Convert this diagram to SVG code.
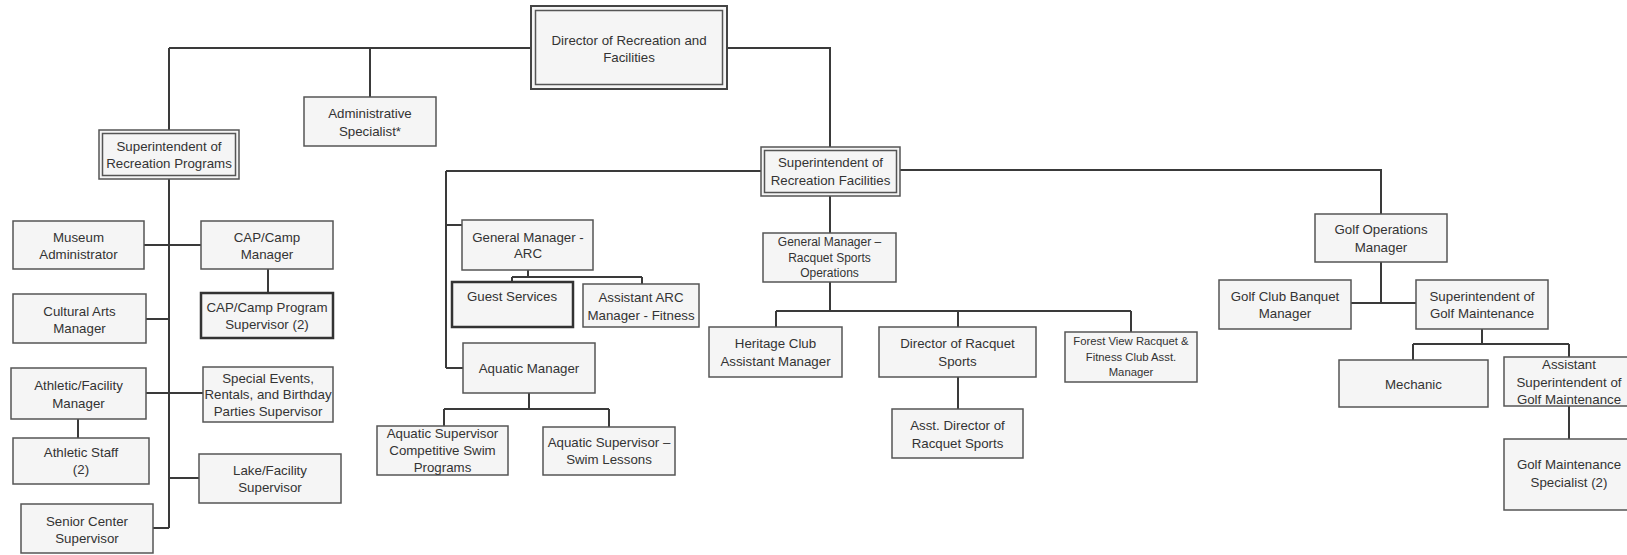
<svg xmlns="http://www.w3.org/2000/svg" width="1627" height="555" viewBox="0 0 1627 555">
<style>
.box{fill:#f5f5f5;stroke:#555;stroke-width:1.5}
.dark{fill:#f5f5f5;stroke:#333;stroke-width:2.5}
.dbl{fill:none;stroke:#555;stroke-width:1.5}
.conn{fill:none;stroke:#3a3a3a;stroke-width:2}
text{font-family:"Liberation Sans",Arial,sans-serif;font-size:13.3px;fill:#333;text-anchor:middle}
.s{font-size:12px}
.xs{font-size:11.3px}
</style>
<rect width="1627" height="555" fill="#ffffff"/>
<g id="connectors">
<path class="conn" d="M169,48H531M727,48H830V147M169,48V130M370,48V97
M169,179V528M144,245H201M268,269V293M146,319H169M146,393H203M78,419V438M169,478H199M153,528H169
M446,171H761M900,170H1381V214M446,171V368M446,225H462M446,368H463
M528,270V277M512,277H642M512,277V282M642,277V284
M529,393V409M444,409H609M444,409V426M609,409V427
M830,196V233M830,282V311M776,311H1131M776,311V327M958,311V327M1131,311V332M958,377V409
M1381,262V303M1351,303H1416M1482,329V344M1413,344H1569M1413,344V360M1569,344V358M1569,406V439"/>
</g>
<g id="director">
<rect x="531" y="6" width="196" height="83" fill="#f5f5f5" stroke="#444" stroke-width="2"/>
<rect x="535.5" y="10.5" width="187" height="74" class="dbl" stroke-width="2"/>
<text x="629" y="45">Director of Recreation and</text>
<text x="629" y="62">Facilities</text>
</g>
<g id="admin">
<rect class="box" x="304" y="97" width="132" height="49"/>
<text x="370" y="118">Administrative</text>
<text x="370" y="136">Specialist*</text>
</g>
<g id="supt-programs">
<rect class="box" x="99" y="130" width="140" height="49"/>
<rect class="dbl" x="102.5" y="133.5" width="133" height="42"/>
<text x="169" y="151">Superintendent of</text>
<text x="169" y="168">Recreation Programs</text>
</g>
<g id="museum">
<rect class="box" x="13" y="221" width="131" height="48"/>
<text x="78.5" y="242">Museum</text>
<text x="78.5" y="259">Administrator</text>
</g>
<g id="cap-manager">
<rect class="box" x="201" y="221" width="132" height="48"/>
<text x="267" y="242">CAP/Camp</text>
<text x="267" y="259">Manager</text>
</g>
<g id="cap-supervisor">
<rect class="dark" x="201" y="293" width="132" height="45"/>
<text x="267" y="312">CAP/Camp Program</text>
<text x="267" y="329">Supervisor (2)</text>
</g>
<g id="cultural">
<rect class="box" x="13" y="294" width="133" height="49"/>
<text x="79.5" y="316">Cultural Arts</text>
<text x="79.5" y="333">Manager</text>
</g>
<g id="athletic-manager">
<rect class="box" x="11" y="368" width="135" height="51"/>
<text x="78.5" y="390">Athletic/Facility</text>
<text x="78.5" y="408">Manager</text>
</g>
<g id="special-events">
<rect class="box" x="203" y="367" width="130" height="55"/>
<text x="268" y="383">Special Events,</text>
<text x="268" y="399">Rentals, and Birthday</text>
<text x="268" y="416">Parties Supervisor</text>
</g>
<g id="athletic-staff">
<rect class="box" x="13" y="438" width="136" height="46"/>
<text x="81" y="457">Athletic Staff</text>
<text x="81" y="474">(2)</text>
</g>
<g id="lake">
<rect class="box" x="199" y="454" width="142" height="49"/>
<text x="270" y="475">Lake/Facility</text>
<text x="270" y="492">Supervisor</text>
</g>
<g id="senior">
<rect class="box" x="21" y="504" width="132" height="49"/>
<text x="87" y="526">Senior Center</text>
<text x="87" y="543">Supervisor</text>
</g>
<g id="supt-facilities">
<rect class="box" x="761" y="147" width="139" height="49"/>
<rect class="dbl" x="764.5" y="150.5" width="132" height="42"/>
<text x="830.5" y="167">Superintendent of</text>
<text x="830.5" y="185">Recreation Facilities</text>
</g>
<g id="gm-arc">
<rect class="box" x="462" y="220" width="131" height="50"/>
<text x="528" y="242">General Manager -</text>
<text x="528" y="258">ARC</text>
</g>
<g id="guest">
<rect class="dark" x="452" y="282" width="121" height="45"/>
<text x="512" y="301">Guest Services</text>
</g>
<g id="asst-arc">
<rect class="box" x="583" y="284" width="116" height="43"/>
<text x="641" y="302">Assistant ARC</text>
<text x="641" y="320">Manager - Fitness</text>
</g>
<g id="aquatic-manager">
<rect class="box" x="463" y="343" width="132" height="50"/>
<text x="529" y="373">Aquatic Manager</text>
</g>
<g id="aquatic-comp">
<rect class="box" x="377" y="426" width="131" height="49"/>
<text x="442.5" y="438">Aquatic Supervisor</text>
<text x="442.5" y="455">Competitive Swim</text>
<text x="442.5" y="472">Programs</text>
</g>
<g id="aquatic-lessons">
<rect class="box" x="543" y="427" width="132" height="48"/>
<text x="609" y="447">Aquatic Supervisor –</text>
<text x="609" y="464">Swim Lessons</text>
</g>
<g id="gm-racquet">
<rect class="box" x="763" y="233" width="133" height="49"/>
<text class="s" x="829.5" y="246">General Manager –</text>
<text class="s" x="829.5" y="261.5">Racquet Sports</text>
<text class="s" x="829.5" y="277">Operations</text>
</g>
<g id="heritage">
<rect class="box" x="709" y="327" width="133" height="50"/>
<text x="775.5" y="348">Heritage Club</text>
<text x="775.5" y="366">Assistant Manager</text>
</g>
<g id="dir-racquet">
<rect class="box" x="879" y="327" width="157" height="50"/>
<text x="957.5" y="348">Director of Racquet</text>
<text x="957.5" y="366">Sports</text>
</g>
<g id="asst-dir-racquet">
<rect class="box" x="892" y="409" width="131" height="49"/>
<text x="957.5" y="430">Asst. Director of</text>
<text x="957.5" y="448">Racquet Sports</text>
</g>
<g id="forest-view">
<rect class="box" x="1065" y="332" width="132" height="50"/>
<text class="xs" x="1131" y="345">Forest View Racquet &amp;</text>
<text class="xs" x="1131" y="360.5">Fitness Club Asst.</text>
<text class="xs" x="1131" y="376">Manager</text>
</g>
<g id="golf-ops">
<rect class="box" x="1315" y="214" width="132" height="48"/>
<text x="1381" y="234">Golf Operations</text>
<text x="1381" y="252">Manager</text>
</g>
<g id="golf-banquet">
<rect class="box" x="1219" y="280" width="132" height="49"/>
<text x="1285" y="301">Golf Club Banquet</text>
<text x="1285" y="318">Manager</text>
</g>
<g id="supt-golf">
<rect class="box" x="1416" y="280" width="132" height="49"/>
<text x="1482" y="301">Superintendent of</text>
<text x="1482" y="318">Golf Maintenance</text>
</g>
<g id="mechanic">
<rect class="box" x="1339" y="360" width="149" height="47"/>
<text x="1413.5" y="389">Mechanic</text>
</g>
<g id="asst-supt-golf">
<rect class="box" x="1504" y="357" width="130" height="49"/>
<text x="1569" y="369">Assistant</text>
<text x="1569" y="387">Superintendent of</text>
<text x="1569" y="404">Golf Maintenance</text>
</g>
<g id="golf-specialist">
<rect class="box" x="1504" y="439" width="130" height="71"/>
<text x="1569" y="469">Golf Maintenance</text>
<text x="1569" y="487">Specialist (2)</text>
</g>
</svg>
